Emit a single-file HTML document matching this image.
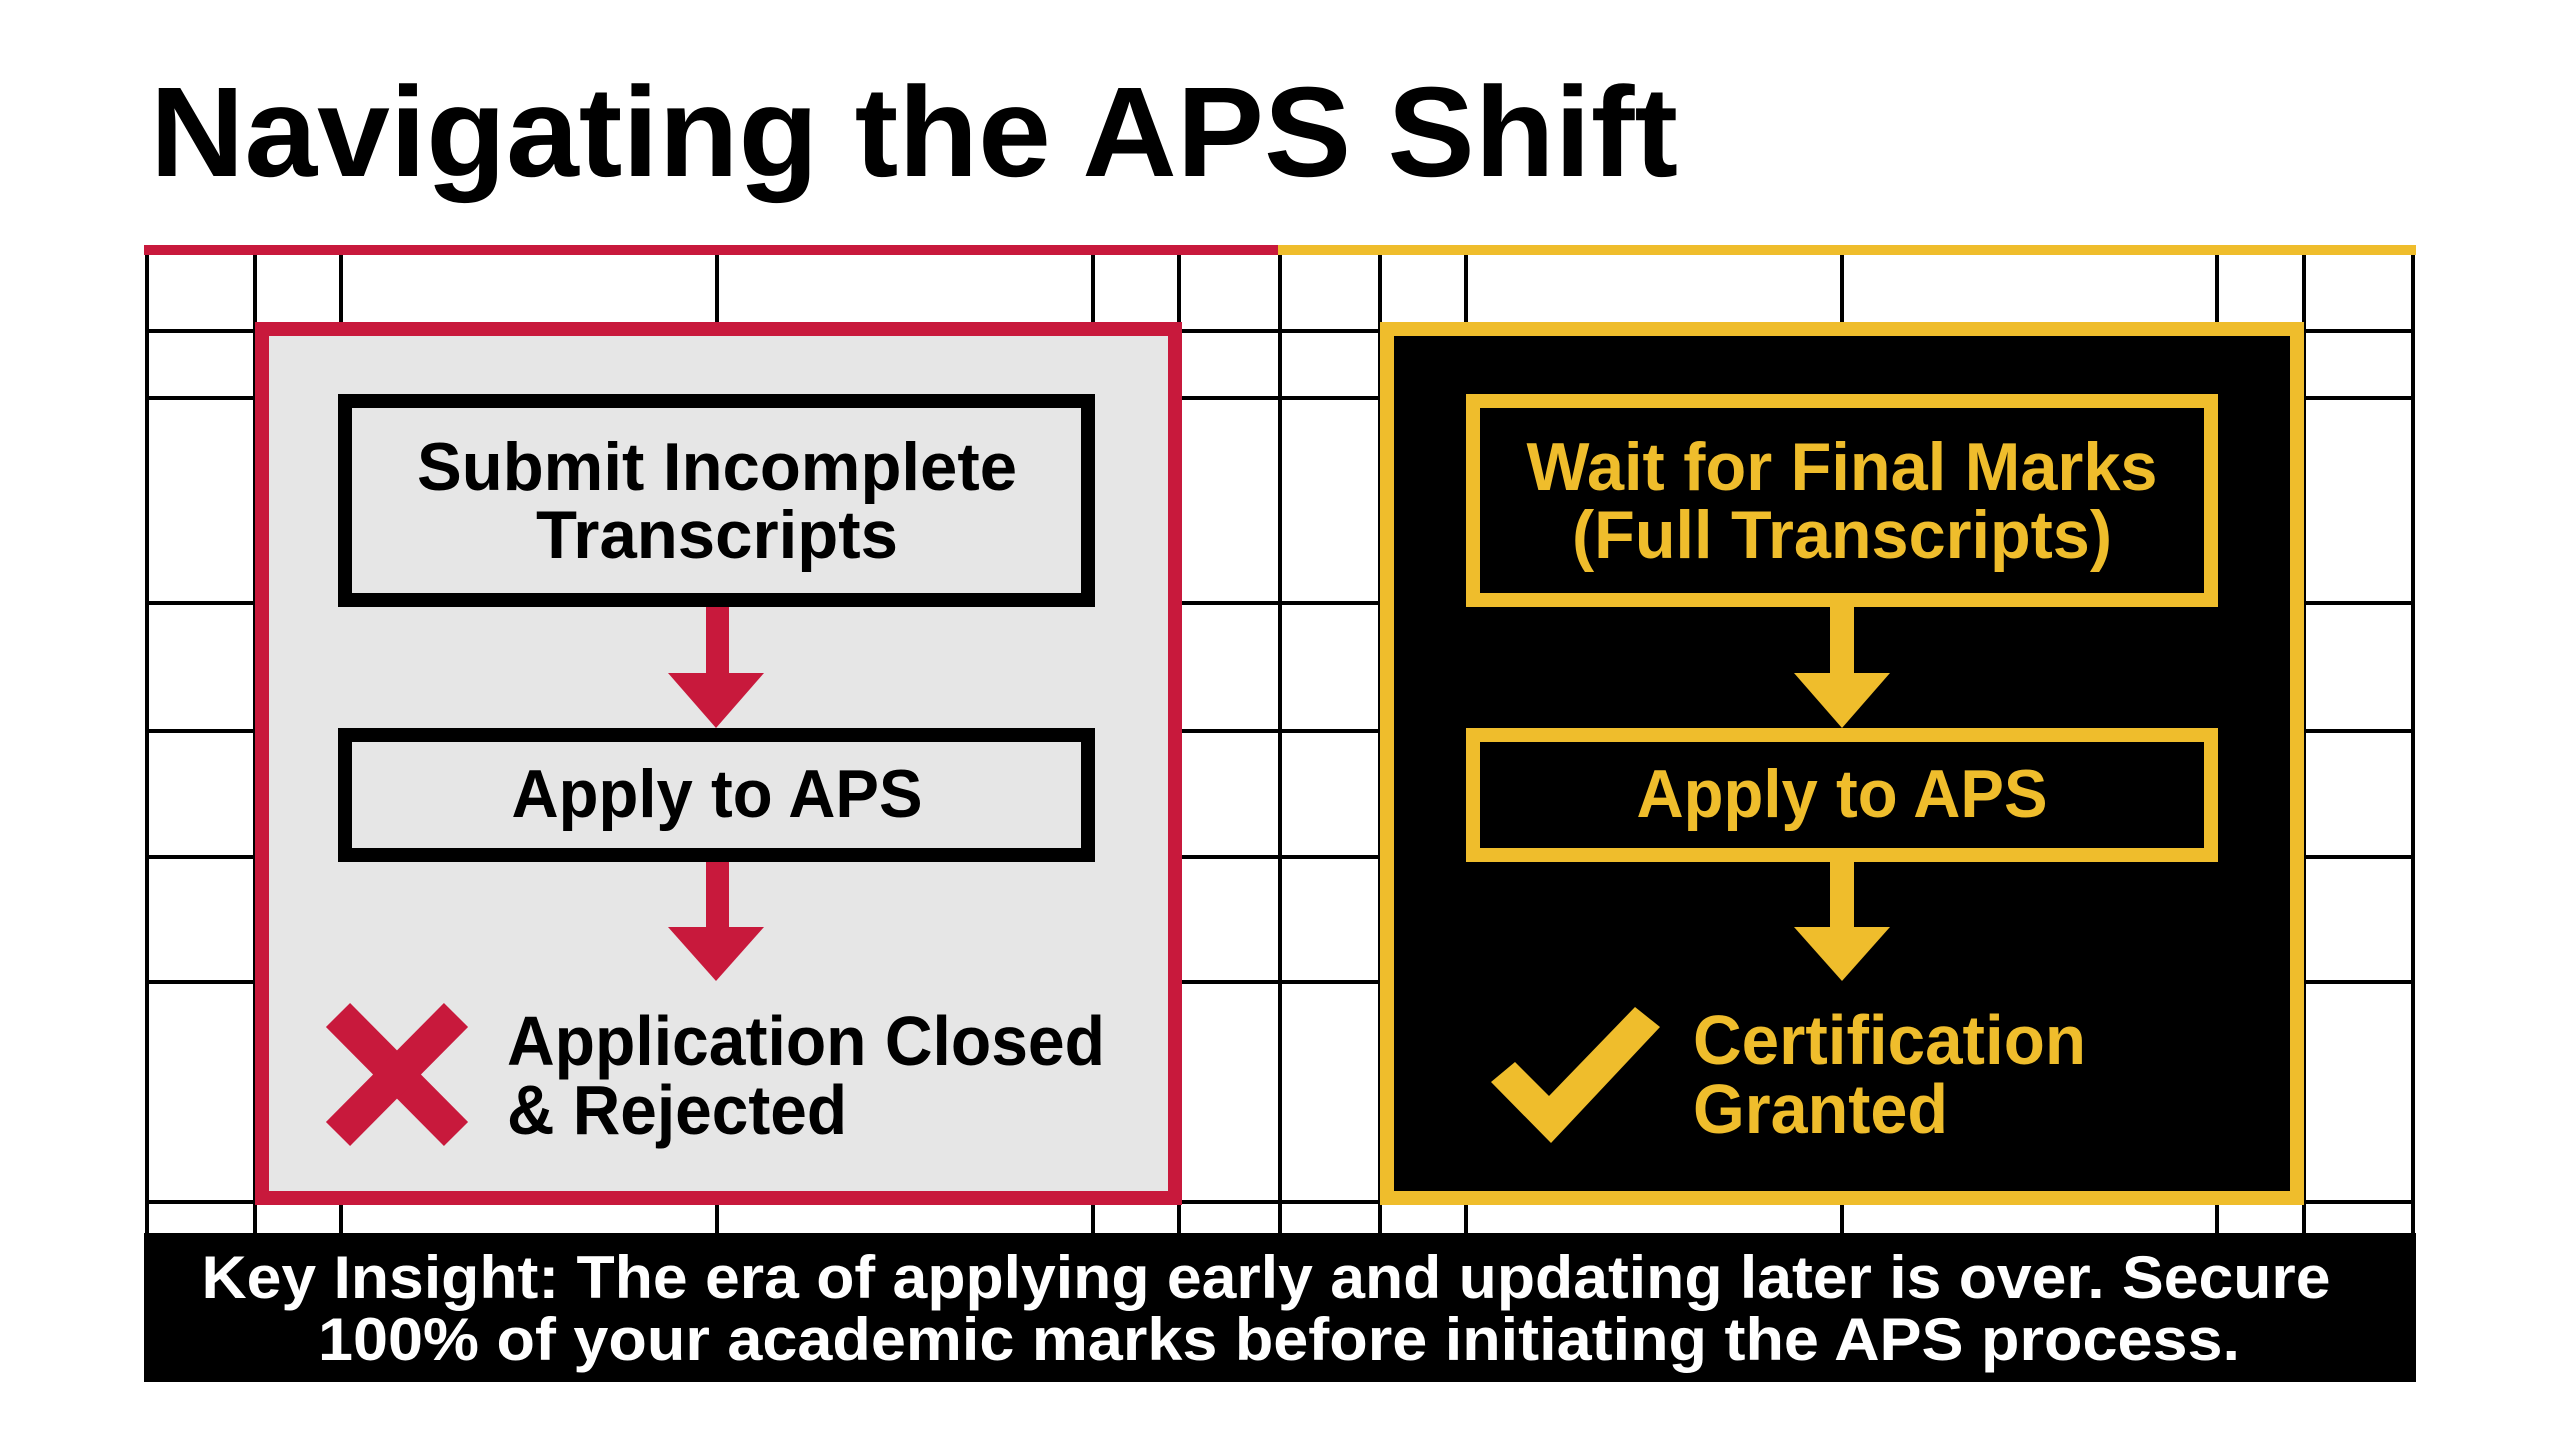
<!DOCTYPE html>
<html><head><meta charset="utf-8"><style>
html,body{margin:0;padding:0;background:#fff;}
svg{display:block;}
text{font-family:"Liberation Sans",sans-serif;font-weight:bold;}
</style></head><body>
<svg width="2560" height="1429" viewBox="0 0 2560 1429" xmlns="http://www.w3.org/2000/svg">
<rect width="2560" height="1429" fill="#fff"/>
<text x="150" y="176" font-size="128" fill="#000" textLength="1528" lengthAdjust="spacingAndGlyphs">Navigating the APS Shift</text>
<!-- grid -->
<g stroke="#000" stroke-width="4">
<line x1="147" y1="250" x2="147" y2="1233"/>
<line x1="255" y1="250" x2="255" y2="1233"/>
<line x1="341" y1="250" x2="341" y2="1233"/>
<line x1="717" y1="250" x2="717" y2="1233"/>
<line x1="1093" y1="250" x2="1093" y2="1233"/>
<line x1="1179" y1="250" x2="1179" y2="1233"/>
<line x1="1280" y1="250" x2="1280" y2="1233"/>
<line x1="1380" y1="250" x2="1380" y2="1233"/>
<line x1="1466" y1="250" x2="1466" y2="1233"/>
<line x1="1842" y1="250" x2="1842" y2="1233"/>
<line x1="2217" y1="250" x2="2217" y2="1233"/>
<line x1="2304" y1="250" x2="2304" y2="1233"/>
<line x1="2413" y1="250" x2="2413" y2="1233"/>
<line x1="147" y1="331" x2="2413" y2="331"/>
<line x1="147" y1="398" x2="2413" y2="398"/>
<line x1="147" y1="603" x2="2413" y2="603"/>
<line x1="147" y1="731" x2="2413" y2="731"/>
<line x1="147" y1="857" x2="2413" y2="857"/>
<line x1="147" y1="982" x2="2413" y2="982"/>
<line x1="147" y1="1202" x2="2413" y2="1202"/>
</g>
<rect x="144" y="245" width="1136" height="10" fill="#c8193c"/>
<rect x="1278" y="245" width="1138" height="10" fill="#efbd2c"/>
<!-- left panel -->
<rect x="262" y="329" width="913" height="869" fill="#e6e6e6" stroke="#c8193c" stroke-width="14"/>
<rect x="345" y="401" width="743" height="199" fill="#e6e6e6" stroke="#000" stroke-width="14"/>
<text x="717" y="490" font-size="68" text-anchor="middle" textLength="600" lengthAdjust="spacingAndGlyphs">Submit Incomplete</text>
<text x="717" y="558" font-size="68" text-anchor="middle" textLength="362" lengthAdjust="spacingAndGlyphs">Transcripts</text>
<rect x="345" y="735" width="743" height="120" fill="#e6e6e6" stroke="#000" stroke-width="14"/>
<text x="717" y="817" font-size="68" text-anchor="middle" textLength="411" lengthAdjust="spacingAndGlyphs">Apply to APS</text>
<rect x="706" y="607" width="23" height="70" fill="#c8193c"/>
<polygon points="668,673 764,673 716,728" fill="#c8193c"/>
<rect x="706" y="862" width="23" height="68" fill="#c8193c"/>
<polygon points="668,927 764,927 716,981" fill="#c8193c"/>
<g stroke="#c8193c" stroke-width="34">
<line x1="338" y1="1015" x2="456" y2="1134"/>
<line x1="456" y1="1015" x2="338" y2="1134"/>
</g>
<text x="507" y="1065" font-size="70" textLength="598" lengthAdjust="spacingAndGlyphs">Application Closed</text>
<text x="507" y="1134" font-size="70" textLength="340" lengthAdjust="spacingAndGlyphs">&amp; Rejected</text>
<!-- right panel -->
<rect x="1387" y="329" width="910" height="869" fill="#000" stroke="#efbd2c" stroke-width="14"/>
<rect x="1473" y="401" width="738" height="199" fill="#000" stroke="#efbd2c" stroke-width="14"/>
<text x="1842" y="490" font-size="68" fill="#efbd2c" text-anchor="middle" textLength="631" lengthAdjust="spacingAndGlyphs">Wait for Final Marks</text>
<text x="1842" y="558" font-size="68" fill="#efbd2c" text-anchor="middle" textLength="540" lengthAdjust="spacingAndGlyphs">(Full Transcripts)</text>
<rect x="1473" y="735" width="738" height="120" fill="#000" stroke="#efbd2c" stroke-width="14"/>
<text x="1842" y="817" font-size="68" fill="#efbd2c" text-anchor="middle" textLength="411" lengthAdjust="spacingAndGlyphs">Apply to APS</text>
<rect x="1830" y="607" width="24" height="70" fill="#efbd2c"/>
<polygon points="1794,673 1890,673 1842,728" fill="#efbd2c"/>
<rect x="1830" y="862" width="24" height="68" fill="#efbd2c"/>
<polygon points="1794,927 1890,927 1842,981" fill="#efbd2c"/>
<polygon points="1491,1082 1551,1143 1660,1027 1635,1007 1549,1096 1515,1062" fill="#efbd2c"/>
<text x="1693" y="1064" font-size="70" fill="#efbd2c" textLength="393" lengthAdjust="spacingAndGlyphs">Certification</text>
<text x="1693" y="1133" font-size="70" fill="#efbd2c" textLength="255" lengthAdjust="spacingAndGlyphs">Granted</text>
<!-- banner -->
<rect x="144" y="1233" width="2272" height="149" fill="#000"/>
<text x="1266" y="1298" font-size="60" fill="#fff" text-anchor="middle" textLength="2129" lengthAdjust="spacingAndGlyphs">Key Insight: The era of applying early and updating later is over. Secure</text>
<text x="1279" y="1360" font-size="60" fill="#fff" text-anchor="middle" textLength="1922" lengthAdjust="spacingAndGlyphs">100% of your academic marks before initiating the APS process.</text>
</svg>
</body></html>
